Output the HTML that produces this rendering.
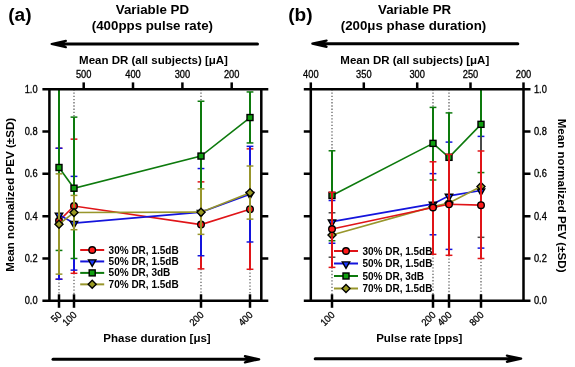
<!DOCTYPE html>
<html><head><meta charset="utf-8"><style>
html,body{margin:0;padding:0;background:#fff;width:575px;height:367px;overflow:hidden}
svg{display:block;will-change:transform}
text{font-family:'Liberation Sans', sans-serif;fill:#000}
</style></head><body>
<svg width="575" height="367" viewBox="0 0 575 367">
<rect x="0" y="0" width="575" height="367" fill="#fff"/>
<line x1="59.00" y1="279.22" x2="59.00" y2="300.80" stroke="#555" stroke-width="1.2" stroke-dasharray="1.3,1.93"/>
<line x1="74.00" y1="89.20" x2="74.00" y2="117.13" stroke="#555" stroke-width="1.2" stroke-dasharray="1.3,1.93"/>
<line x1="74.00" y1="273.29" x2="74.00" y2="300.80" stroke="#555" stroke-width="1.2" stroke-dasharray="1.3,1.93"/>
<line x1="201.00" y1="89.20" x2="201.00" y2="101.26" stroke="#555" stroke-width="1.2" stroke-dasharray="1.3,1.93"/>
<line x1="201.00" y1="268.85" x2="201.00" y2="300.80" stroke="#555" stroke-width="1.2" stroke-dasharray="1.3,1.93"/>
<line x1="250.00" y1="269.27" x2="250.00" y2="300.80" stroke="#555" stroke-width="1.2" stroke-dasharray="1.3,1.93"/>
<line x1="59.00" y1="148.24" x2="59.00" y2="279.22" stroke="#e01418" stroke-width="2.0" />
<line x1="55.60" y1="148.24" x2="62.40" y2="148.24" stroke="#e01418" stroke-width="1.5" />
<line x1="55.60" y1="279.22" x2="62.40" y2="279.22" stroke="#e01418" stroke-width="1.5" />
<line x1="74.00" y1="139.14" x2="74.00" y2="273.29" stroke="#e01418" stroke-width="2.0" />
<line x1="70.60" y1="139.14" x2="77.40" y2="139.14" stroke="#e01418" stroke-width="1.5" />
<line x1="70.60" y1="273.29" x2="77.40" y2="273.29" stroke="#e01418" stroke-width="1.5" />
<line x1="201.00" y1="181.88" x2="201.00" y2="268.85" stroke="#e01418" stroke-width="2.0" />
<line x1="197.60" y1="181.88" x2="204.40" y2="181.88" stroke="#e01418" stroke-width="1.5" />
<line x1="197.60" y1="268.85" x2="204.40" y2="268.85" stroke="#e01418" stroke-width="1.5" />
<line x1="250.00" y1="148.87" x2="250.00" y2="269.27" stroke="#e01418" stroke-width="2.0" />
<line x1="246.60" y1="148.87" x2="253.40" y2="148.87" stroke="#e01418" stroke-width="1.5" />
<line x1="246.60" y1="269.27" x2="253.40" y2="269.27" stroke="#e01418" stroke-width="1.5" />
<polyline points="59.00,220.82 74.00,206.00 201.00,224.62 250.00,209.18" fill="none" stroke="#e01418" stroke-width="1.6"/>
<circle cx="59.00" cy="220.82" r="3.3" fill="#ff1a1a" stroke="#000" stroke-width="1.4"/>
<circle cx="74.00" cy="206.00" r="3.3" fill="#ff1a1a" stroke="#000" stroke-width="1.4"/>
<circle cx="201.00" cy="224.62" r="3.3" fill="#ff1a1a" stroke="#000" stroke-width="1.4"/>
<circle cx="250.00" cy="209.18" r="3.3" fill="#ff1a1a" stroke="#000" stroke-width="1.4"/>
<line x1="59.00" y1="148.24" x2="59.00" y2="279.22" stroke="#1414dc" stroke-width="2.0" />
<line x1="55.60" y1="148.24" x2="62.40" y2="148.24" stroke="#1414dc" stroke-width="1.5" />
<line x1="55.60" y1="279.22" x2="62.40" y2="279.22" stroke="#1414dc" stroke-width="1.5" />
<line x1="74.00" y1="176.38" x2="74.00" y2="270.12" stroke="#1414dc" stroke-width="2.0" />
<line x1="70.60" y1="176.38" x2="77.40" y2="176.38" stroke="#1414dc" stroke-width="1.5" />
<line x1="70.60" y1="270.12" x2="77.40" y2="270.12" stroke="#1414dc" stroke-width="1.5" />
<line x1="201.00" y1="168.55" x2="201.00" y2="255.73" stroke="#1414dc" stroke-width="2.0" />
<line x1="197.60" y1="168.55" x2="204.40" y2="168.55" stroke="#1414dc" stroke-width="1.5" />
<line x1="197.60" y1="255.73" x2="204.40" y2="255.73" stroke="#1414dc" stroke-width="1.5" />
<line x1="250.00" y1="146.33" x2="250.00" y2="241.98" stroke="#1414dc" stroke-width="2.0" />
<line x1="246.60" y1="146.33" x2="253.40" y2="146.33" stroke="#1414dc" stroke-width="1.5" />
<line x1="246.60" y1="241.98" x2="253.40" y2="241.98" stroke="#1414dc" stroke-width="1.5" />
<polyline points="59.00,214.68 74.00,223.14 201.00,212.14 250.00,194.15" fill="none" stroke="#1414dc" stroke-width="1.6"/>
<path d="M55.30,213.08 L62.70,213.08 L59.00,219.58 Z" fill="#1a3aff" stroke="#000" stroke-width="1.4" stroke-linejoin="miter"/>
<path d="M70.30,221.54 L77.70,221.54 L74.00,228.04 Z" fill="#1a3aff" stroke="#000" stroke-width="1.4" stroke-linejoin="miter"/>
<path d="M197.30,210.54 L204.70,210.54 L201.00,217.04 Z" fill="#1a3aff" stroke="#000" stroke-width="1.4" stroke-linejoin="miter"/>
<path d="M246.30,192.55 L253.70,192.55 L250.00,199.05 Z" fill="#1a3aff" stroke="#000" stroke-width="1.4" stroke-linejoin="miter"/>
<line x1="59.00" y1="89.20" x2="59.00" y2="250.44" stroke="#0d7a0d" stroke-width="2.0" />
<line x1="55.60" y1="250.44" x2="62.40" y2="250.44" stroke="#0d7a0d" stroke-width="1.5" />
<line x1="74.00" y1="117.13" x2="74.00" y2="258.48" stroke="#0d7a0d" stroke-width="2.0" />
<line x1="70.60" y1="117.13" x2="77.40" y2="117.13" stroke="#0d7a0d" stroke-width="1.5" />
<line x1="70.60" y1="258.48" x2="77.40" y2="258.48" stroke="#0d7a0d" stroke-width="1.5" />
<line x1="201.00" y1="101.26" x2="201.00" y2="210.87" stroke="#0d7a0d" stroke-width="2.0" />
<line x1="197.60" y1="101.26" x2="204.40" y2="101.26" stroke="#0d7a0d" stroke-width="1.5" />
<line x1="197.60" y1="210.87" x2="204.40" y2="210.87" stroke="#0d7a0d" stroke-width="1.5" />
<line x1="250.00" y1="91.95" x2="250.00" y2="142.95" stroke="#0d7a0d" stroke-width="2.0" />
<line x1="246.60" y1="91.95" x2="253.40" y2="91.95" stroke="#0d7a0d" stroke-width="1.5" />
<line x1="246.60" y1="142.95" x2="253.40" y2="142.95" stroke="#0d7a0d" stroke-width="1.5" />
<polyline points="59.00,167.49 74.00,188.23 201.00,156.07 250.00,117.55" fill="none" stroke="#0d7a0d" stroke-width="1.6"/>
<rect x="56.00" y="164.49" width="6.0" height="6.0" fill="#10a010" stroke="#000" stroke-width="1.4"/>
<rect x="71.00" y="185.23" width="6.0" height="6.0" fill="#10a010" stroke="#000" stroke-width="1.4"/>
<rect x="198.00" y="153.07" width="6.0" height="6.0" fill="#10a010" stroke="#000" stroke-width="1.4"/>
<rect x="247.00" y="114.55" width="6.0" height="6.0" fill="#10a010" stroke="#000" stroke-width="1.4"/>
<line x1="59.00" y1="173.84" x2="59.00" y2="274.14" stroke="#98962c" stroke-width="2.0" />
<line x1="55.60" y1="173.84" x2="62.40" y2="173.84" stroke="#98962c" stroke-width="1.5" />
<line x1="55.60" y1="274.14" x2="62.40" y2="274.14" stroke="#98962c" stroke-width="1.5" />
<line x1="74.00" y1="195.42" x2="74.00" y2="229.70" stroke="#98962c" stroke-width="2.0" />
<line x1="70.60" y1="195.42" x2="77.40" y2="195.42" stroke="#98962c" stroke-width="1.5" />
<line x1="70.60" y1="229.70" x2="77.40" y2="229.70" stroke="#98962c" stroke-width="1.5" />
<line x1="201.00" y1="188.86" x2="201.00" y2="234.36" stroke="#98962c" stroke-width="2.0" />
<line x1="197.60" y1="188.86" x2="204.40" y2="188.86" stroke="#98962c" stroke-width="1.5" />
<line x1="197.60" y1="234.36" x2="204.40" y2="234.36" stroke="#98962c" stroke-width="1.5" />
<line x1="250.00" y1="166.01" x2="250.00" y2="219.12" stroke="#98962c" stroke-width="2.0" />
<line x1="246.60" y1="166.01" x2="253.40" y2="166.01" stroke="#98962c" stroke-width="1.5" />
<line x1="246.60" y1="219.12" x2="253.40" y2="219.12" stroke="#98962c" stroke-width="1.5" />
<polyline points="59.00,224.20 74.00,212.56 201.00,212.14 250.00,192.67" fill="none" stroke="#98962c" stroke-width="1.6"/>
<path d="M59.00,220.20 L63.00,224.20 L59.00,228.20 L55.00,224.20 Z" fill="#9a9a22" stroke="#000" stroke-width="1.4"/>
<path d="M74.00,208.56 L78.00,212.56 L74.00,216.56 L70.00,212.56 Z" fill="#9a9a22" stroke="#000" stroke-width="1.4"/>
<path d="M201.00,208.14 L205.00,212.14 L201.00,216.14 L197.00,212.14 Z" fill="#9a9a22" stroke="#000" stroke-width="1.4"/>
<path d="M250.00,188.67 L254.00,192.67 L250.00,196.67 L246.00,192.67 Z" fill="#9a9a22" stroke="#000" stroke-width="1.4"/>
<path d="M49.40,89.20 V300.80 M261.30,89.20 V300.80 M42.40,89.20 H268.30 M42.40,300.80 H268.30" stroke="#000" stroke-width="2.5" fill="none"/>
<path d="M42.40,258.48 H49.40 M261.30,258.48 H268.30" stroke="#000" stroke-width="2.5"/>
<path d="M42.40,216.16 H49.40 M261.30,216.16 H268.30" stroke="#000" stroke-width="2.5"/>
<path d="M42.40,173.84 H49.40 M261.30,173.84 H268.30" stroke="#000" stroke-width="2.5"/>
<path d="M42.40,131.52 H49.40 M261.30,131.52 H268.30" stroke="#000" stroke-width="2.5"/>
<line x1="83.70" y1="82.40" x2="83.70" y2="89.20" stroke="#000" stroke-width="2.5" />
<text transform="translate(83.70,78.20) scale(0.93,1)" font-size="10.0" font-weight="normal" text-anchor="middle" stroke="#000" stroke-width="0.3">500</text>
<line x1="133.00" y1="82.40" x2="133.00" y2="89.20" stroke="#000" stroke-width="2.5" />
<text transform="translate(133.00,78.20) scale(0.93,1)" font-size="10.0" font-weight="normal" text-anchor="middle" stroke="#000" stroke-width="0.3">400</text>
<line x1="182.40" y1="82.40" x2="182.40" y2="89.20" stroke="#000" stroke-width="2.5" />
<text transform="translate(182.40,78.20) scale(0.93,1)" font-size="10.0" font-weight="normal" text-anchor="middle" stroke="#000" stroke-width="0.3">300</text>
<line x1="231.70" y1="82.40" x2="231.70" y2="89.20" stroke="#000" stroke-width="2.5" />
<text transform="translate(231.70,78.20) scale(0.93,1)" font-size="10.0" font-weight="normal" text-anchor="middle" stroke="#000" stroke-width="0.3">200</text>
<line x1="59.00" y1="294.30" x2="59.00" y2="307.80" stroke="#000" stroke-width="2.5" />
<text transform="translate(62.40,315.6) rotate(-45) scale(0.93,1)" x="0" y="0" font-size="10.0" text-anchor="end" stroke="#000" stroke-width="0.3">50</text>
<line x1="74.00" y1="294.30" x2="74.00" y2="307.80" stroke="#000" stroke-width="2.5" />
<text transform="translate(77.40,315.6) rotate(-45) scale(0.93,1)" x="0" y="0" font-size="10.0" text-anchor="end" stroke="#000" stroke-width="0.3">100</text>
<line x1="201.00" y1="294.30" x2="201.00" y2="307.80" stroke="#000" stroke-width="2.5" />
<text transform="translate(204.40,315.6) rotate(-45) scale(0.93,1)" x="0" y="0" font-size="10.0" text-anchor="end" stroke="#000" stroke-width="0.3">200</text>
<line x1="250.00" y1="294.30" x2="250.00" y2="307.80" stroke="#000" stroke-width="2.5" />
<text transform="translate(253.40,315.6) rotate(-45) scale(0.93,1)" x="0" y="0" font-size="10.0" text-anchor="end" stroke="#000" stroke-width="0.3">400</text>
<text transform="translate(37.60,304.40) scale(0.93,1)" font-size="10.0" font-weight="normal" text-anchor="end" stroke="#000" stroke-width="0.3">0.0</text>
<text transform="translate(37.60,262.08) scale(0.93,1)" font-size="10.0" font-weight="normal" text-anchor="end" stroke="#000" stroke-width="0.3">0.2</text>
<text transform="translate(37.60,219.76) scale(0.93,1)" font-size="10.0" font-weight="normal" text-anchor="end" stroke="#000" stroke-width="0.3">0.4</text>
<text transform="translate(37.60,177.44) scale(0.93,1)" font-size="10.0" font-weight="normal" text-anchor="end" stroke="#000" stroke-width="0.3">0.6</text>
<text transform="translate(37.60,135.12) scale(0.93,1)" font-size="10.0" font-weight="normal" text-anchor="end" stroke="#000" stroke-width="0.3">0.8</text>
<text transform="translate(37.60,92.80) scale(0.93,1)" font-size="10.0" font-weight="normal" text-anchor="end" stroke="#000" stroke-width="0.3">1.0</text>
<line x1="80.20" y1="250.00" x2="104.20" y2="250.00" stroke="#e01418" stroke-width="2" />
<circle cx="92.20" cy="250.00" r="3.3" fill="#ff1a1a" stroke="#000" stroke-width="1.4"/>
<text x="108.60" y="253.50" font-size="10" font-weight="bold" text-anchor="start" >30% DR, 1.5dB</text>
<line x1="80.20" y1="261.45" x2="104.20" y2="261.45" stroke="#1414dc" stroke-width="2" />
<path d="M88.50,259.85 L95.90,259.85 L92.20,266.35 Z" fill="#1a3aff" stroke="#000" stroke-width="1.4" stroke-linejoin="miter"/>
<text x="108.60" y="264.95" font-size="10" font-weight="bold" text-anchor="start" >50% DR, 1.5dB</text>
<line x1="80.20" y1="272.90" x2="104.20" y2="272.90" stroke="#0d7a0d" stroke-width="2" />
<rect x="89.20" y="269.90" width="6.0" height="6.0" fill="#10a010" stroke="#000" stroke-width="1.4"/>
<text x="108.60" y="276.40" font-size="10" font-weight="bold" text-anchor="start" >50% DR, 3dB</text>
<line x1="80.20" y1="284.35" x2="104.20" y2="284.35" stroke="#98962c" stroke-width="2" />
<path d="M92.20,280.35 L96.20,284.35 L92.20,288.35 L88.20,284.35 Z" fill="#9a9a22" stroke="#000" stroke-width="1.4"/>
<text x="108.60" y="287.85" font-size="10" font-weight="bold" text-anchor="start" >70% DR, 1.5dB</text>
<line x1="332.00" y1="89.20" x2="332.00" y2="150.78" stroke="#555" stroke-width="1.2" stroke-dasharray="1.3,1.93"/>
<line x1="332.00" y1="267.37" x2="332.00" y2="300.80" stroke="#555" stroke-width="1.2" stroke-dasharray="1.3,1.93"/>
<line x1="433.00" y1="89.20" x2="433.00" y2="107.40" stroke="#555" stroke-width="1.2" stroke-dasharray="1.3,1.93"/>
<line x1="433.00" y1="254.25" x2="433.00" y2="300.80" stroke="#555" stroke-width="1.2" stroke-dasharray="1.3,1.93"/>
<line x1="449.00" y1="89.20" x2="449.00" y2="112.90" stroke="#555" stroke-width="1.2" stroke-dasharray="1.3,1.93"/>
<line x1="449.00" y1="255.31" x2="449.00" y2="300.80" stroke="#555" stroke-width="1.2" stroke-dasharray="1.3,1.93"/>
<line x1="481.00" y1="258.48" x2="481.00" y2="300.80" stroke="#555" stroke-width="1.2" stroke-dasharray="1.3,1.93"/>
<line x1="332.00" y1="200.50" x2="332.00" y2="243.24" stroke="#1414dc" stroke-width="2.0" />
<line x1="328.60" y1="200.50" x2="335.40" y2="200.50" stroke="#1414dc" stroke-width="1.5" />
<line x1="328.60" y1="243.24" x2="335.40" y2="243.24" stroke="#1414dc" stroke-width="1.5" />
<line x1="433.00" y1="173.63" x2="433.00" y2="234.78" stroke="#1414dc" stroke-width="2.0" />
<line x1="429.60" y1="173.63" x2="436.40" y2="173.63" stroke="#1414dc" stroke-width="1.5" />
<line x1="429.60" y1="234.78" x2="436.40" y2="234.78" stroke="#1414dc" stroke-width="1.5" />
<line x1="449.00" y1="142.10" x2="449.00" y2="249.38" stroke="#1414dc" stroke-width="2.0" />
<line x1="445.60" y1="142.10" x2="452.40" y2="142.10" stroke="#1414dc" stroke-width="1.5" />
<line x1="445.60" y1="249.38" x2="452.40" y2="249.38" stroke="#1414dc" stroke-width="1.5" />
<line x1="481.00" y1="136.39" x2="481.00" y2="248.11" stroke="#1414dc" stroke-width="2.0" />
<line x1="477.60" y1="136.39" x2="484.40" y2="136.39" stroke="#1414dc" stroke-width="1.5" />
<line x1="477.60" y1="248.11" x2="484.40" y2="248.11" stroke="#1414dc" stroke-width="1.5" />
<polyline points="332.00,221.66 433.00,203.89 449.00,195.85 481.00,190.56" fill="none" stroke="#1414dc" stroke-width="1.6"/>
<path d="M328.30,220.06 L335.70,220.06 L332.00,226.56 Z" fill="#1a3aff" stroke="#000" stroke-width="1.4" stroke-linejoin="miter"/>
<path d="M429.30,202.29 L436.70,202.29 L433.00,208.79 Z" fill="#1a3aff" stroke="#000" stroke-width="1.4" stroke-linejoin="miter"/>
<path d="M445.30,194.25 L452.70,194.25 L449.00,200.75 Z" fill="#1a3aff" stroke="#000" stroke-width="1.4" stroke-linejoin="miter"/>
<path d="M477.30,188.96 L484.70,188.96 L481.00,195.46 Z" fill="#1a3aff" stroke="#000" stroke-width="1.4" stroke-linejoin="miter"/>
<line x1="332.00" y1="150.78" x2="332.00" y2="240.71" stroke="#0d7a0d" stroke-width="2.0" />
<line x1="328.60" y1="150.78" x2="335.40" y2="150.78" stroke="#0d7a0d" stroke-width="1.5" />
<line x1="328.60" y1="240.71" x2="335.40" y2="240.71" stroke="#0d7a0d" stroke-width="1.5" />
<line x1="433.00" y1="107.40" x2="433.00" y2="179.98" stroke="#0d7a0d" stroke-width="2.0" />
<line x1="429.60" y1="107.40" x2="436.40" y2="107.40" stroke="#0d7a0d" stroke-width="1.5" />
<line x1="429.60" y1="179.98" x2="436.40" y2="179.98" stroke="#0d7a0d" stroke-width="1.5" />
<line x1="449.00" y1="112.90" x2="449.00" y2="201.35" stroke="#0d7a0d" stroke-width="2.0" />
<line x1="445.60" y1="112.90" x2="452.40" y2="112.90" stroke="#0d7a0d" stroke-width="1.5" />
<line x1="445.60" y1="201.35" x2="452.40" y2="201.35" stroke="#0d7a0d" stroke-width="1.5" />
<line x1="481.00" y1="89.20" x2="481.00" y2="172.57" stroke="#0d7a0d" stroke-width="2.0" />
<line x1="477.60" y1="172.57" x2="484.40" y2="172.57" stroke="#0d7a0d" stroke-width="1.5" />
<polyline points="332.00,195.42 433.00,143.37 449.00,157.34 481.00,124.33" fill="none" stroke="#0d7a0d" stroke-width="1.6"/>
<rect x="329.00" y="192.42" width="6.0" height="6.0" fill="#10a010" stroke="#000" stroke-width="1.4"/>
<rect x="430.00" y="140.37" width="6.0" height="6.0" fill="#10a010" stroke="#000" stroke-width="1.4"/>
<rect x="446.00" y="154.34" width="6.0" height="6.0" fill="#10a010" stroke="#000" stroke-width="1.4"/>
<rect x="478.00" y="121.33" width="6.0" height="6.0" fill="#10a010" stroke="#000" stroke-width="1.4"/>
<line x1="332.00" y1="212.77" x2="332.00" y2="257.21" stroke="#4a4a4a" stroke-width="2.0" />
<line x1="328.60" y1="212.77" x2="335.40" y2="212.77" stroke="#4a4a4a" stroke-width="1.5" />
<line x1="328.60" y1="257.21" x2="335.40" y2="257.21" stroke="#4a4a4a" stroke-width="1.5" />
<line x1="433.00" y1="206.64" x2="433.00" y2="206.64" stroke="#4a4a4a" stroke-width="2.0" />
<line x1="429.60" y1="206.64" x2="436.40" y2="206.64" stroke="#4a4a4a" stroke-width="1.5" />
<line x1="429.60" y1="206.64" x2="436.40" y2="206.64" stroke="#4a4a4a" stroke-width="1.5" />
<line x1="449.00" y1="203.04" x2="449.00" y2="203.04" stroke="#4a4a4a" stroke-width="2.0" />
<line x1="445.60" y1="203.04" x2="452.40" y2="203.04" stroke="#4a4a4a" stroke-width="1.5" />
<line x1="445.60" y1="203.04" x2="452.40" y2="203.04" stroke="#4a4a4a" stroke-width="1.5" />
<line x1="481.00" y1="136.39" x2="481.00" y2="237.32" stroke="#4a4a4a" stroke-width="2.0" />
<line x1="477.60" y1="237.32" x2="484.40" y2="237.32" stroke="#4a4a4a" stroke-width="1.5" />
<polyline points="332.00,234.99 433.00,206.64 449.00,203.04 481.00,186.54" fill="none" stroke="#98962c" stroke-width="1.6"/>
<path d="M332.00,230.99 L336.00,234.99 L332.00,238.99 L328.00,234.99 Z" fill="#9a9a22" stroke="#000" stroke-width="1.4"/>
<path d="M433.00,202.64 L437.00,206.64 L433.00,210.64 L429.00,206.64 Z" fill="#9a9a22" stroke="#000" stroke-width="1.4"/>
<path d="M449.00,199.04 L453.00,203.04 L449.00,207.04 L445.00,203.04 Z" fill="#9a9a22" stroke="#000" stroke-width="1.4"/>
<path d="M481.00,182.54 L485.00,186.54 L481.00,190.54 L477.00,186.54 Z" fill="#9a9a22" stroke="#000" stroke-width="1.4"/>
<line x1="332.00" y1="192.25" x2="332.00" y2="267.37" stroke="#e01418" stroke-width="2.0" />
<line x1="328.60" y1="192.25" x2="335.40" y2="192.25" stroke="#e01418" stroke-width="1.5" />
<line x1="328.60" y1="267.37" x2="335.40" y2="267.37" stroke="#e01418" stroke-width="1.5" />
<line x1="433.00" y1="161.78" x2="433.00" y2="254.25" stroke="#e01418" stroke-width="2.0" />
<line x1="429.60" y1="161.78" x2="436.40" y2="161.78" stroke="#e01418" stroke-width="1.5" />
<line x1="429.60" y1="254.25" x2="436.40" y2="254.25" stroke="#e01418" stroke-width="1.5" />
<line x1="449.00" y1="154.37" x2="449.00" y2="255.31" stroke="#e01418" stroke-width="2.0" />
<line x1="445.60" y1="154.37" x2="452.40" y2="154.37" stroke="#e01418" stroke-width="1.5" />
<line x1="445.60" y1="255.31" x2="452.40" y2="255.31" stroke="#e01418" stroke-width="1.5" />
<line x1="481.00" y1="150.99" x2="481.00" y2="258.48" stroke="#e01418" stroke-width="2.0" />
<line x1="477.60" y1="150.99" x2="484.40" y2="150.99" stroke="#e01418" stroke-width="1.5" />
<line x1="477.60" y1="258.48" x2="484.40" y2="258.48" stroke="#e01418" stroke-width="1.5" />
<polyline points="332.00,229.07 433.00,207.48 449.00,204.31 481.00,205.16" fill="none" stroke="#e01418" stroke-width="1.6"/>
<circle cx="332.00" cy="229.07" r="3.3" fill="#ff1a1a" stroke="#000" stroke-width="1.4"/>
<circle cx="433.00" cy="207.48" r="3.3" fill="#ff1a1a" stroke="#000" stroke-width="1.4"/>
<circle cx="449.00" cy="204.31" r="3.3" fill="#ff1a1a" stroke="#000" stroke-width="1.4"/>
<circle cx="481.00" cy="205.16" r="3.3" fill="#ff1a1a" stroke="#000" stroke-width="1.4"/>
<path d="M310.80,89.20 V300.80 M523.50,89.20 V300.80 M303.80,89.20 H530.50 M303.80,300.80 H530.50" stroke="#000" stroke-width="2.5" fill="none"/>
<path d="M303.80,258.48 H310.80 M523.50,258.48 H530.50" stroke="#000" stroke-width="2.5"/>
<path d="M303.80,216.16 H310.80 M523.50,216.16 H530.50" stroke="#000" stroke-width="2.5"/>
<path d="M303.80,173.84 H310.80 M523.50,173.84 H530.50" stroke="#000" stroke-width="2.5"/>
<path d="M303.80,131.52 H310.80 M523.50,131.52 H530.50" stroke="#000" stroke-width="2.5"/>
<line x1="310.80" y1="82.40" x2="310.80" y2="89.20" stroke="#000" stroke-width="2.5" />
<text transform="translate(310.80,78.20) scale(0.93,1)" font-size="10.0" font-weight="normal" text-anchor="middle" stroke="#000" stroke-width="0.3">400</text>
<line x1="363.80" y1="82.40" x2="363.80" y2="89.20" stroke="#000" stroke-width="2.5" />
<text transform="translate(363.80,78.20) scale(0.93,1)" font-size="10.0" font-weight="normal" text-anchor="middle" stroke="#000" stroke-width="0.3">350</text>
<line x1="417.20" y1="82.40" x2="417.20" y2="89.20" stroke="#000" stroke-width="2.5" />
<text transform="translate(417.20,78.20) scale(0.93,1)" font-size="10.0" font-weight="normal" text-anchor="middle" stroke="#000" stroke-width="0.3">300</text>
<line x1="470.50" y1="82.40" x2="470.50" y2="89.20" stroke="#000" stroke-width="2.5" />
<text transform="translate(470.50,78.20) scale(0.93,1)" font-size="10.0" font-weight="normal" text-anchor="middle" stroke="#000" stroke-width="0.3">250</text>
<line x1="523.50" y1="82.40" x2="523.50" y2="89.20" stroke="#000" stroke-width="2.5" />
<text transform="translate(523.50,78.20) scale(0.93,1)" font-size="10.0" font-weight="normal" text-anchor="middle" stroke="#000" stroke-width="0.3">200</text>
<line x1="332.00" y1="294.30" x2="332.00" y2="307.80" stroke="#000" stroke-width="2.5" />
<text transform="translate(335.40,315.6) rotate(-45) scale(0.93,1)" x="0" y="0" font-size="10.0" text-anchor="end" stroke="#000" stroke-width="0.3">100</text>
<line x1="433.00" y1="294.30" x2="433.00" y2="307.80" stroke="#000" stroke-width="2.5" />
<text transform="translate(436.40,315.6) rotate(-45) scale(0.93,1)" x="0" y="0" font-size="10.0" text-anchor="end" stroke="#000" stroke-width="0.3">200</text>
<line x1="449.00" y1="294.30" x2="449.00" y2="307.80" stroke="#000" stroke-width="2.5" />
<text transform="translate(452.40,315.6) rotate(-45) scale(0.93,1)" x="0" y="0" font-size="10.0" text-anchor="end" stroke="#000" stroke-width="0.3">400</text>
<line x1="481.00" y1="294.30" x2="481.00" y2="307.80" stroke="#000" stroke-width="2.5" />
<text transform="translate(484.40,315.6) rotate(-45) scale(0.93,1)" x="0" y="0" font-size="10.0" text-anchor="end" stroke="#000" stroke-width="0.3">800</text>
<text transform="translate(533.90,304.40) scale(0.93,1)" font-size="10.0" font-weight="normal" text-anchor="start" stroke="#000" stroke-width="0.3">0.0</text>
<text transform="translate(533.90,262.08) scale(0.93,1)" font-size="10.0" font-weight="normal" text-anchor="start" stroke="#000" stroke-width="0.3">0.2</text>
<text transform="translate(533.90,219.76) scale(0.93,1)" font-size="10.0" font-weight="normal" text-anchor="start" stroke="#000" stroke-width="0.3">0.4</text>
<text transform="translate(533.90,177.44) scale(0.93,1)" font-size="10.0" font-weight="normal" text-anchor="start" stroke="#000" stroke-width="0.3">0.6</text>
<text transform="translate(533.90,135.12) scale(0.93,1)" font-size="10.0" font-weight="normal" text-anchor="start" stroke="#000" stroke-width="0.3">0.8</text>
<text transform="translate(533.90,92.80) scale(0.93,1)" font-size="10.0" font-weight="normal" text-anchor="start" stroke="#000" stroke-width="0.3">1.0</text>
<line x1="334.00" y1="251.00" x2="358.00" y2="251.00" stroke="#e01418" stroke-width="2" />
<circle cx="346.00" cy="251.00" r="3.3" fill="#ff1a1a" stroke="#000" stroke-width="1.4"/>
<text x="362.40" y="254.50" font-size="10" font-weight="bold" text-anchor="start" >30% DR, 1.5dB</text>
<line x1="334.00" y1="263.50" x2="358.00" y2="263.50" stroke="#1414dc" stroke-width="2" />
<path d="M342.30,261.90 L349.70,261.90 L346.00,268.40 Z" fill="#1a3aff" stroke="#000" stroke-width="1.4" stroke-linejoin="miter"/>
<text x="362.40" y="267.00" font-size="10" font-weight="bold" text-anchor="start" >50% DR, 1.5dB</text>
<line x1="334.00" y1="276.00" x2="358.00" y2="276.00" stroke="#0d7a0d" stroke-width="2" />
<rect x="343.00" y="273.00" width="6.0" height="6.0" fill="#10a010" stroke="#000" stroke-width="1.4"/>
<text x="362.40" y="279.50" font-size="10" font-weight="bold" text-anchor="start" >50% DR, 3dB</text>
<line x1="334.00" y1="288.50" x2="358.00" y2="288.50" stroke="#98962c" stroke-width="2" />
<path d="M346.00,284.50 L350.00,288.50 L346.00,292.50 L342.00,288.50 Z" fill="#9a9a22" stroke="#000" stroke-width="1.4"/>
<text x="362.40" y="292.00" font-size="10" font-weight="bold" text-anchor="start" >70% DR, 1.5dB</text>
<text x="19.85" y="21.10" font-size="19.1" font-weight="bold" text-anchor="middle" >(a)</text>
<text x="300.40" y="21.10" font-size="19.1" font-weight="bold" text-anchor="middle" >(b)</text>
<text x="152.40" y="14.30" font-size="13.3" font-weight="bold" text-anchor="middle" >Variable PD</text>
<text x="152.40" y="29.60" font-size="13.3" font-weight="bold" text-anchor="middle" >(400pps pulse rate)</text>
<text x="414.60" y="14.30" font-size="13.3" font-weight="bold" text-anchor="middle" >Variable PR</text>
<text x="413.50" y="29.60" font-size="13.3" font-weight="bold" text-anchor="middle" >(200&#956;s phase duration)</text>
<text x="153.50" y="64.40" font-size="11.5" font-weight="bold" text-anchor="middle" >Mean DR (all subjects) [&#956;A]</text>
<text x="414.80" y="64.40" font-size="11.5" font-weight="bold" text-anchor="middle" >Mean DR (all subjects) [&#956;A]</text>
<text x="157.00" y="342.00" font-size="11.5" font-weight="bold" text-anchor="middle" >Phase duration [&#956;s]</text>
<text x="419.30" y="342.00" font-size="11.5" font-weight="bold" text-anchor="middle" >Pulse rate [pps]</text>
<text transform="translate(14.3,194.8) rotate(-90)" font-size="11.6" font-weight="bold" text-anchor="middle">Mean normalized PEV (&#177;SD)</text>
<text transform="translate(558.3,195.6) rotate(90)" font-size="11.6" font-weight="bold" text-anchor="middle">Mean normalized PEV (&#177;SD)</text>
<line x1="60.60" y1="44.00" x2="257.50" y2="44.00" stroke="#000" stroke-width="3" stroke-linecap="round"/>
<path d="M51.6,44.0 L65.9,40.9 L60.6,44.0 L65.9,47.1 Z" fill="#000" stroke="#000" stroke-width="2.2" stroke-linejoin="round"/>
<line x1="53.00" y1="359.30" x2="250.20" y2="359.30" stroke="#000" stroke-width="3" stroke-linecap="round"/>
<path d="M259.2,359.3 L244.9,356.2 L250.2,359.3 L244.9,362.4 Z" fill="#000" stroke="#000" stroke-width="2.2" stroke-linejoin="round"/>
<line x1="321.30" y1="43.70" x2="517.80" y2="43.70" stroke="#000" stroke-width="3" stroke-linecap="round"/>
<path d="M312.3,43.7 L326.6,40.6 L321.3,43.7 L326.6,46.8 Z" fill="#000" stroke="#000" stroke-width="2.2" stroke-linejoin="round"/>
<line x1="315.20" y1="358.70" x2="512.20" y2="358.70" stroke="#000" stroke-width="3" stroke-linecap="round"/>
<path d="M521.2,358.7 L506.9,355.6 L512.2,358.7 L506.9,361.8 Z" fill="#000" stroke="#000" stroke-width="2.2" stroke-linejoin="round"/>
</svg>
</body></html>
